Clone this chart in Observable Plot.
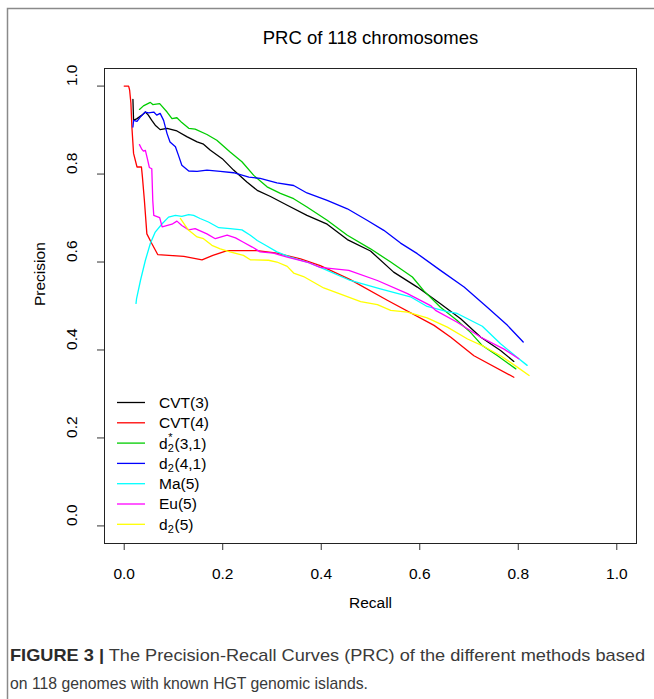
<!DOCTYPE html>
<html>
<head>
<meta charset="utf-8">
<script src="https://cdn.jsdelivr.net/npm/d3@7"></script>
<script src="https://cdn.jsdelivr.net/npm/@observablehq/plot@0.6"></script>
<style>
  html, body { margin: 0; padding: 0; background: #fff; }
  #chart { position: relative; width: 654px; height: 699px; }
</style>
</head>
<body>
<div id="chart"></div>
<script>
// ---------- data ----------
const seriesNames = ["CVT(3)", "CVT(4)", "d2*(3,1)", "d2(4,1)", "Ma(5)", "Eu(5)", "d2(5)"];
const seriesColors = ["#000000", "#FF0000", "#00CD00", "#0000FF", "#00FFFF", "#FF00FF", "#FFFF00"];

const cvt3Recall = [0.0177, 0.019, 0.026, 0.036, 0.043, 0.049, 0.056, 0.063, 0.073, 0.087, 0.107, 0.127, 0.148, 0.161, 0.175, 0.199, 0.222, 0.249, 0.27, 0.297, 0.331, 0.371, 0.412, 0.453, 0.5, 0.547, 0.595, 0.642, 0.683, 0.724, 0.764, 0.791];
const cvt3Precision = [0.970, 0.922, 0.926, 0.934, 0.941, 0.934, 0.922, 0.911, 0.901, 0.904, 0.898, 0.885, 0.873, 0.868, 0.854, 0.835, 0.809, 0.782, 0.763, 0.749, 0.729, 0.706, 0.686, 0.651, 0.625, 0.577, 0.543, 0.505, 0.471, 0.429, 0.399, 0.374];

const cvt4Recall = [0, 0.009, 0.011, 0.0136, 0.0156, 0.019, 0.026, 0.035, 0.037, 0.041, 0.046, 0.056, 0.068, 0.121, 0.158, 0.18, 0.209, 0.27, 0.31, 0.358, 0.398, 0.459, 0.534, 0.629, 0.663, 0.71, 0.791];
const cvt4Precision = [1.0, 1.0, 0.991, 0.961, 0.907, 0.847, 0.816, 0.816, 0.793, 0.740, 0.664, 0.642, 0.617, 0.613, 0.605, 0.615, 0.626, 0.626, 0.620, 0.607, 0.592, 0.560, 0.513, 0.456, 0.429, 0.387, 0.338];

const d2s31Recall = [0.031, 0.039, 0.053, 0.058, 0.072, 0.087, 0.097, 0.107, 0.117, 0.131, 0.144, 0.168, 0.188, 0.215, 0.239, 0.263, 0.29, 0.317, 0.344, 0.371, 0.412, 0.453, 0.5, 0.541, 0.585, 0.608, 0.642, 0.676, 0.703, 0.727, 0.758, 0.795];
const d2s31Precision = [0.947, 0.955, 0.963, 0.958, 0.960, 0.941, 0.926, 0.928, 0.917, 0.904, 0.902, 0.890, 0.877, 0.850, 0.828, 0.797, 0.771, 0.756, 0.744, 0.725, 0.695, 0.661, 0.630, 0.600, 0.566, 0.535, 0.497, 0.467, 0.440, 0.410, 0.387, 0.357];

const d241Recall = [0.0177, 0.019, 0.026, 0.033, 0.043, 0.049, 0.06, 0.066, 0.073, 0.08, 0.087, 0.093, 0.104, 0.11, 0.117, 0.131, 0.148, 0.168, 0.195, 0.222, 0.253, 0.276, 0.31, 0.344, 0.371, 0.412, 0.453, 0.493, 0.527, 0.561, 0.595, 0.642, 0.69, 0.737, 0.778, 0.81];
const d241Precision = [0.907, 0.922, 0.920, 0.930, 0.941, 0.939, 0.941, 0.934, 0.938, 0.922, 0.892, 0.873, 0.862, 0.843, 0.820, 0.807, 0.806, 0.809, 0.806, 0.803, 0.793, 0.790, 0.780, 0.774, 0.757, 0.740, 0.721, 0.695, 0.672, 0.643, 0.619, 0.581, 0.543, 0.497, 0.456, 0.418];

const ma5Recall = [0.024, 0.025, 0.033, 0.043, 0.053, 0.063, 0.077, 0.09, 0.104, 0.117, 0.131, 0.141, 0.154, 0.171, 0.192, 0.215, 0.239, 0.256, 0.27, 0.287, 0.31, 0.337, 0.371, 0.398, 0.459, 0.52, 0.581, 0.615, 0.656, 0.676, 0.727, 0.764, 0.798, 0.818];
const ma5Precision = [0.506, 0.516, 0.558, 0.604, 0.642, 0.668, 0.687, 0.702, 0.706, 0.704, 0.708, 0.706, 0.699, 0.691, 0.678, 0.676, 0.673, 0.661, 0.649, 0.638, 0.623, 0.611, 0.600, 0.588, 0.558, 0.539, 0.521, 0.499, 0.487, 0.483, 0.454, 0.414, 0.383, 0.365];

const eu5Recall = [0.031, 0.036, 0.039, 0.043, 0.047, 0.051, 0.056, 0.058, 0.06, 0.072, 0.077, 0.097, 0.107, 0.117, 0.131, 0.144, 0.168, 0.185, 0.209, 0.226, 0.242, 0.26, 0.276, 0.303, 0.331, 0.371, 0.398, 0.456, 0.514, 0.575, 0.622, 0.632, 0.676, 0.724, 0.771, 0.801];
const eu5Precision = [0.867, 0.856, 0.852, 0.854, 0.835, 0.815, 0.812, 0.740, 0.706, 0.701, 0.680, 0.686, 0.693, 0.683, 0.673, 0.676, 0.664, 0.653, 0.661, 0.655, 0.645, 0.634, 0.623, 0.620, 0.611, 0.600, 0.588, 0.581, 0.558, 0.528, 0.501, 0.490, 0.463, 0.429, 0.402, 0.380];

const d25Recall = [0.114, 0.124, 0.131, 0.148, 0.161, 0.178, 0.195, 0.215, 0.242, 0.256, 0.293, 0.31, 0.331, 0.344, 0.364, 0.405, 0.446, 0.48, 0.514, 0.541, 0.575, 0.615, 0.656, 0.697, 0.73, 0.764, 0.798, 0.822];
const d25Precision = [0.699, 0.683, 0.672, 0.657, 0.653, 0.638, 0.630, 0.623, 0.615, 0.605, 0.604, 0.600, 0.590, 0.575, 0.567, 0.541, 0.524, 0.510, 0.503, 0.490, 0.486, 0.473, 0.452, 0.425, 0.408, 0.387, 0.361, 0.342];

const xTicks = [0.0, 0.2, 0.4, 0.6, 0.8, 1.0];
const yTicks = [0.0, 0.2, 0.4, 0.6, 0.8, 1.0];

const titleText = "PRC of 118 chromosomes";
const xLabel = "Recall";
const yLabel = "Precision";
const captionBold = "FIGURE 3 |";
const captionLine1 = " The Precision-Recall Curves (PRC) of the different methods based";
const captionLine2 = "on 118 genomes with known HGT genomic islands.";

// ---------- build table ----------
const recalls = [cvt3Recall, cvt4Recall, d2s31Recall, d241Recall, ma5Recall, eu5Recall, d25Recall];
const precisions = [cvt3Precision, cvt4Precision, d2s31Precision, d241Precision, ma5Precision, eu5Precision, d25Precision];
const rows = [];
seriesNames.forEach((name, i) => {
  recalls[i].forEach((r, j) => rows.push({series: name, recall: r, precision: precisions[i][j]}));
});

const FONT = "'Liberation Sans', Arial, Helvetica, sans-serif";

const plot = Plot.plot({
  width: 654,
  height: 699,
  marginLeft: 104,
  marginRight: 18,
  marginTop: 68,
  marginBottom: 156,
  style: {fontFamily: FONT, fontSize: "15.5px", background: "white", color: "black", overflow: "visible"},
  x: {domain: [-0.04, 1.04]},
  y: {domain: [-0.04, 1.04]},
  color: {domain: seriesNames, range: seriesColors},
  marks: [
    Plot.axisX({ticks: xTicks, tickSize: 7, tickPadding: 17, tickFormat: d => d.toFixed(1), label: null, stroke: "#333", fontSize: 15.5}),
    Plot.axisY({ticks: yTicks, tickSize: 7, tickFormat: () => "", label: null, stroke: "#333"}),
    Plot.text(yTicks, {y: d => d, text: d => d.toFixed(1), frameAnchor: "left", dx: -32, rotate: -90, fontSize: 15.5}),
    Plot.line(rows, {x: "recall", y: "precision", z: "series", stroke: "series", strokeWidth: 1.3, strokeLinejoin: "round"}),
    Plot.frame({stroke: "#222", strokeWidth: 1}),
    Plot.text([titleText], {text: d => d, frameAnchor: "top", dy: -38, fontSize: 18.5}),
    Plot.text([xLabel], {text: d => d, frameAnchor: "bottom", dy: 64, fontSize: 15.5}),
    Plot.text([yLabel], {text: d => d, frameAnchor: "left", dx: -64, rotate: -90, fontSize: 15.5})
  ]
});

document.getElementById("chart").appendChild(plot);

// ---------- legend, frame and caption ----------
const svg = d3.select(plot);

// outer figure frame (left and top lines)
svg.append("path")
  .attr("d", "M7.5,699 L7.5,8.5 L654,8.5")
  .attr("fill", "none").attr("stroke", "#8a8a8a").attr("stroke-width", 1.5);

const legend = svg.append("g").attr("font-family", FONT).attr("font-size", 15.5).attr("text-anchor", "start");
const legX1 = 117, legX2 = 145, legTX = 159, legY0 = 402.5, legStep = 20.3;
seriesNames.forEach((name, i) => {
  const y = legY0 + i * legStep;
  legend.append("line")
    .attr("x1", legX1).attr("x2", legX2).attr("y1", y).attr("y2", y)
    .attr("stroke", seriesColors[i]).attr("stroke-width", 1.3);
  if (name.startsWith("d2")) {
    const star = name[2] === "*";
    const rest = name.slice(star ? 3 : 2);
    legend.append("text").attr("x", legTX).attr("y", y).attr("dy", "0.35em").text("d");
    legend.append("text").attr("x", legTX + 8.8).attr("y", y + 5).attr("dy", "0.35em").attr("font-size", 11).text("2");
    if (star) legend.append("text").attr("x", legTX + 9.3).attr("y", y - 5.5).attr("dy", "0.35em").attr("font-size", 11).text("*");
    legend.append("text").attr("x", legTX + 15.5).attr("y", y).attr("dy", "0.35em").text(rest);
  } else {
    legend.append("text").attr("x", legTX).attr("y", y).attr("dy", "0.35em").text(name);
  }
});

const cap = svg.append("g").attr("font-family", FONT).attr("font-size", 17).attr("fill", "#3a3a3a").attr("text-anchor", "start");
const t1 = cap.append("text").attr("x", 10).attr("y", 661)
  .attr("textLength", 635).attr("lengthAdjust", "spacingAndGlyphs");
t1.append("tspan").attr("font-weight", "bold").attr("fill", "#2b2b2b").text(captionBold);
t1.append("tspan").text(captionLine1);
cap.append("text").attr("x", 10).attr("y", 689)
  .attr("textLength", 358).attr("lengthAdjust", "spacingAndGlyphs")
  .text(captionLine2);
</script>
</body>
</html>
